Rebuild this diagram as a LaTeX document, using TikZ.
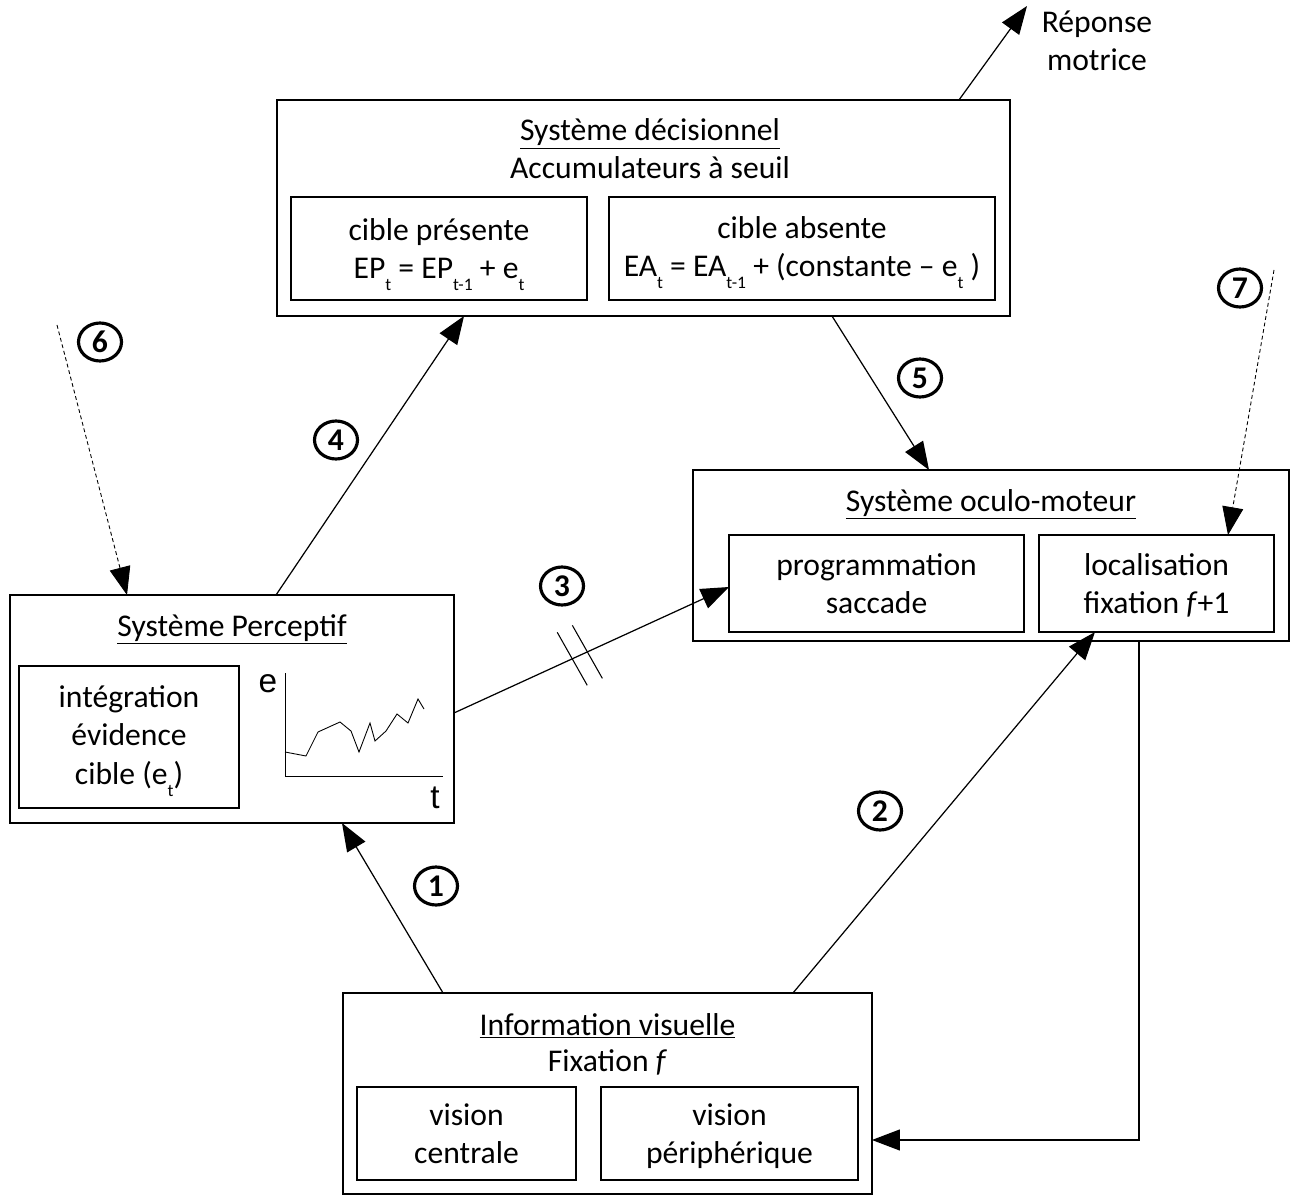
\documentclass[tikz,border=0pt]{standalone}
\usepackage{fontspec}
\setmainfont{Carlito}
\newfontfamily\chartfont{Liberation Sans}
\usetikzlibrary{arrows.meta,shapes.geometric}
\newcommand{\lowsub}[1]{\raisebox{-7pt}[0pt][0pt]{\fontsize{10pt}{10pt}\selectfont #1}}

\begin{document}
\begin{tikzpicture}[x=0.02cm, y=-0.02cm,
  font=\fontsize{18pt}{21.8pt}\selectfont,
  sysbox/.style={rectangle, draw, line width=0.7pt, inner sep=0pt, outer sep=0pt},
  subbox/.style={sysbox, align=center},
  title/.style={anchor=base, inner sep=0pt},
  badge/.style={ellipse, draw, line width=1.8pt, minimum width=0.86cm, minimum height=0.76cm, inner sep=0pt,
    font=\fontsize{18pt}{18pt}\selectfont\bfseries},
  arr/.style={-{Triangle[length=0.56cm, width=0.42cm]}, line width=0.7pt},
  dasharr/.style={arr, line width=0.5pt, dash pattern=on 2.2pt off 1.6pt}
]
  \useasboundingbox (0,0) rectangle (1292,1196);

  % systeme decisionnel
  \node[sysbox, minimum width=14.66cm, minimum height=4.32cm] (decis) at (643.5,208) {};
  \node[title] (decistitle) at (650,141) {\underline{Système décisionnel}};
  \node[title] (accu) at (650,179) {Accumulateurs à seuil};
  \node[subbox, minimum width=5.92cm, minimum height=2.06cm] (present) at (439,248.5)
    {cible présente\\EP\lowsub{t} = EP\lowsub{t-1} + e\lowsub{t}};
  \node[subbox, minimum width=7.72cm, minimum height=2.06cm] (absent) at (802,248.5)
    {cible absente\\EA\lowsub{t} = EA\lowsub{t-1} + (constante -- e\lowsub{t} )};

  % systeme oculo-moteur
  \node[sysbox, minimum width=11.92cm, minimum height=3.42cm] (oculo) at (991,555.5) {};
  \node[title] (oculotitle) at (991,511) {\underline{Système oculo-moteur}};
  \node[subbox, minimum width=5.9cm, minimum height=1.94cm] (prog) at (876.5,583.5) {programmation\\saccade};
  \node[subbox, minimum width=4.7cm, minimum height=1.94cm, text depth=0pt] (loc) at (1156.5,583.5)
    {localisation\\fixation \textit{f}+1};

  % systeme perceptif
  \node[sysbox, minimum width=8.88cm, minimum height=4.56cm] (percep) at (232,709) {};
  \node[title] (perceptitle) at (232,636) {\underline{Système Perceptif}};
  \node[subbox, minimum width=4.4cm, minimum height=2.84cm] (integ) at (129,737)
    {intégration\\évidence\\cible (e\lowsub{t})};
  \draw[line width=0.5pt] (285,673) -- (285,776) -- (443,776);
  \draw[line width=0.5pt] plot coordinates {(285,752) (306,756) (318,732) (340,722) (351,731) (359,752)
    (370,723) (375,741) (386,731) (397,714) (408,723) (418,699) (424,709)};
  \node[font=\chartfont\fontsize{19pt}{20pt}\selectfont] (elabel) at (268,684) {e};
  \node[font=\chartfont\fontsize{19pt}{20pt}\selectfont] (tlabel) at (435,798) {t};

  % information visuelle
  \node[sysbox, minimum width=10.58cm, minimum height=4.02cm] (visu) at (607.5,1093.5) {};
  \node[title] (visutitle) at (607.5,1035) {\underline{Information visuelle}};
  \node[title] (fix) at (607.5,1071) {Fixation \textit{f}};
  \node[subbox, minimum width=4.38cm, minimum height=1.86cm] (central) at (466.5,1133.5) {vision\\centrale};
  \node[subbox, minimum width=5.14cm, minimum height=1.86cm, text depth=0pt] (periph) at (729.5,1133.5)
    {vision\\périphérique};

  % sortie
  \coordinate (out) at (1027,6);
  \node[align=center] (reponse) at (1097,41) {Réponse\\motrice};
  \coordinate (in6) at (57,325);
  \coordinate (in7) at (1274,270);

  % connecteurs
  \draw[arr] ([xshift=-3.29cm]visu.north) -- ([xshift=2.2cm]percep.south);
  \draw[arr] ([xshift=3.71cm]visu.north) -- ([xshift=-1.23cm]loc.south);
  \draw[arr] ([yshift=-0.08cm]percep.east) -- coordinate[pos=0.43] (cut1) coordinate[pos=0.485] (cut2) ([yshift=-0.07cm]prog.west);
  \foreach \c in {cut1,cut2}
    \draw[line width=0.6pt] ([shift={(-15,-26.5)}]\c) -- ([shift={(15,26.5)}]\c);
  \draw[arr] ([xshift=0.88cm]percep.north) -- ([xshift=-3.59cm]decis.south);
  \draw[arr] ([xshift=3.77cm]decis.south) -- ([xshift=-1.24cm]oculo.north);
  \draw[arr] ([xshift=6.31cm]decis.north) -- (out);
  \draw[arr] ([xshift=2.96cm]oculo.south) |- ([yshift=-0.93cm]visu.east);
  \draw[dasharr] (in6) -- ([xshift=-2.1cm]percep.north);
  \draw[dasharr] (in7) -- ([xshift=1.43cm]loc.north);

  % numeros
  \node[badge] (n1) at (436,886) {1};
  \node[badge] (n2) at (880,811) {2};
  \node[badge] (n3) at (562,586) {3};
  \node[badge] (n4) at (336,440) {4};
  \node[badge] (n5) at (920,378) {5};
  \node[badge] (n6) at (100,342) {6};
  \node[badge] (n7) at (1240,288) {7};
\end{tikzpicture}
\end{document}
